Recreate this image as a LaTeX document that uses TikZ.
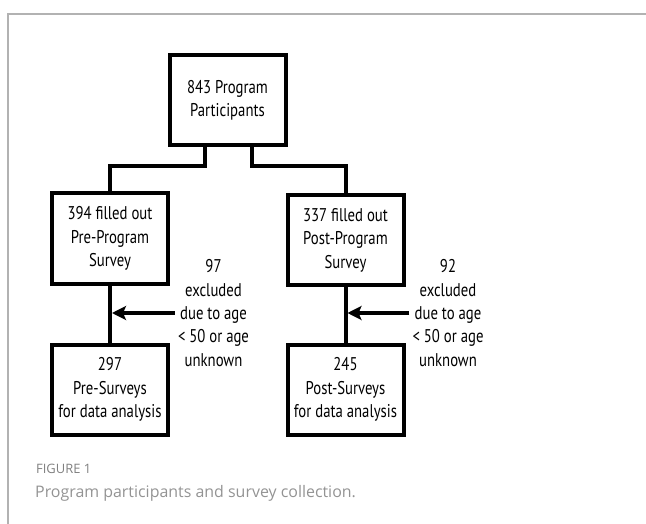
\documentclass[tikz,border=0pt]{standalone}
\usepackage{fontspec}
\setmainfont[FakeStretch=0.8]{PT Sans}
\newfontfamily\captionfont{Open Sans}
\usepackage{tikz}
\usetikzlibrary{arrows.meta, positioning, calc}
\definecolor{framegray}{RGB}{178,178,178}
\definecolor{captiongray}{RGB}{128,128,128}

\begin{document}
\begin{tikzpicture}[
    x=1bp, y=-1bp,
    box/.style={rectangle, draw, line width=4bp, minimum width=116bp, minimum height=90bp, align=center, inner sep=0pt, font=\fontsize{18.5}{23.5}\selectfont},
    note/.style={align=center, inner sep=0pt, font=\fontsize{18.5}{23.5}\selectfont},
    link/.style={line width=4bp},
    arrow/.style={line width=4bp, -{Stealth[length=14bp, width=14bp, inset=3bp]}, shorten >=2bp}
]
\useasboundingbox (0,0) rectangle (646,524);

% frame
\draw[framegray, line width=1.5bp] (8,524) -- (8,14) -- (646,14);

% boxes
\node[box] (participants) at (227.5,100.5) {843 Program\\Participants};
\node[box] (pre) at (110,238.5) {394 filled out\\Pre-Program\\Survey};
\node[box] (post) at (345.5,240) {337 filled out\\Post-Program\\Survey};
\node[box] (preused) at (110,389.5) {297\\Pre-Surveys\\for data analysis};
\node[box] (postused) at (345.5,389.5) {245\\Post-Surveys\\for data analysis};

% exclusion notes
\node[note] (preexcl) at (213.5,313) {97\\excluded\\due to age\\< 50 or age\\unknown};
\node[note] (postexcl) at (448,313) {92\\excluded\\due to age\\< 50 or age\\unknown};

% connectors
\draw[link] ([xshift=-22.5bp]participants.south) -- ++(0,19) -| (pre.north);
\draw[link] ([xshift=24.5bp]participants.south) -- ++(0,19) -| (post.north);
\draw[link] (pre) -- (preused);
\draw[link] (post) -- (postused);
\draw[arrow] ([xshift=-3bp]preexcl.west) -- (preexcl.west -| pre.south);
\draw[arrow] ([xshift=-3bp]postexcl.west) -- (postexcl.west -| post.south);

% caption
\node[anchor=west, inner sep=0pt, text=captiongray, font=\captionfont\fontsize{13}{15}\selectfont] (figlabel) at (36,469) {FIGURE 1};
\node[anchor=west, inner sep=0pt, text=captiongray!85, font=\captionfont\fontsize{16}{19}\selectfont] (figcaption) at (35,493) {Program participants and survey collection.};
\end{tikzpicture}
\end{document}
